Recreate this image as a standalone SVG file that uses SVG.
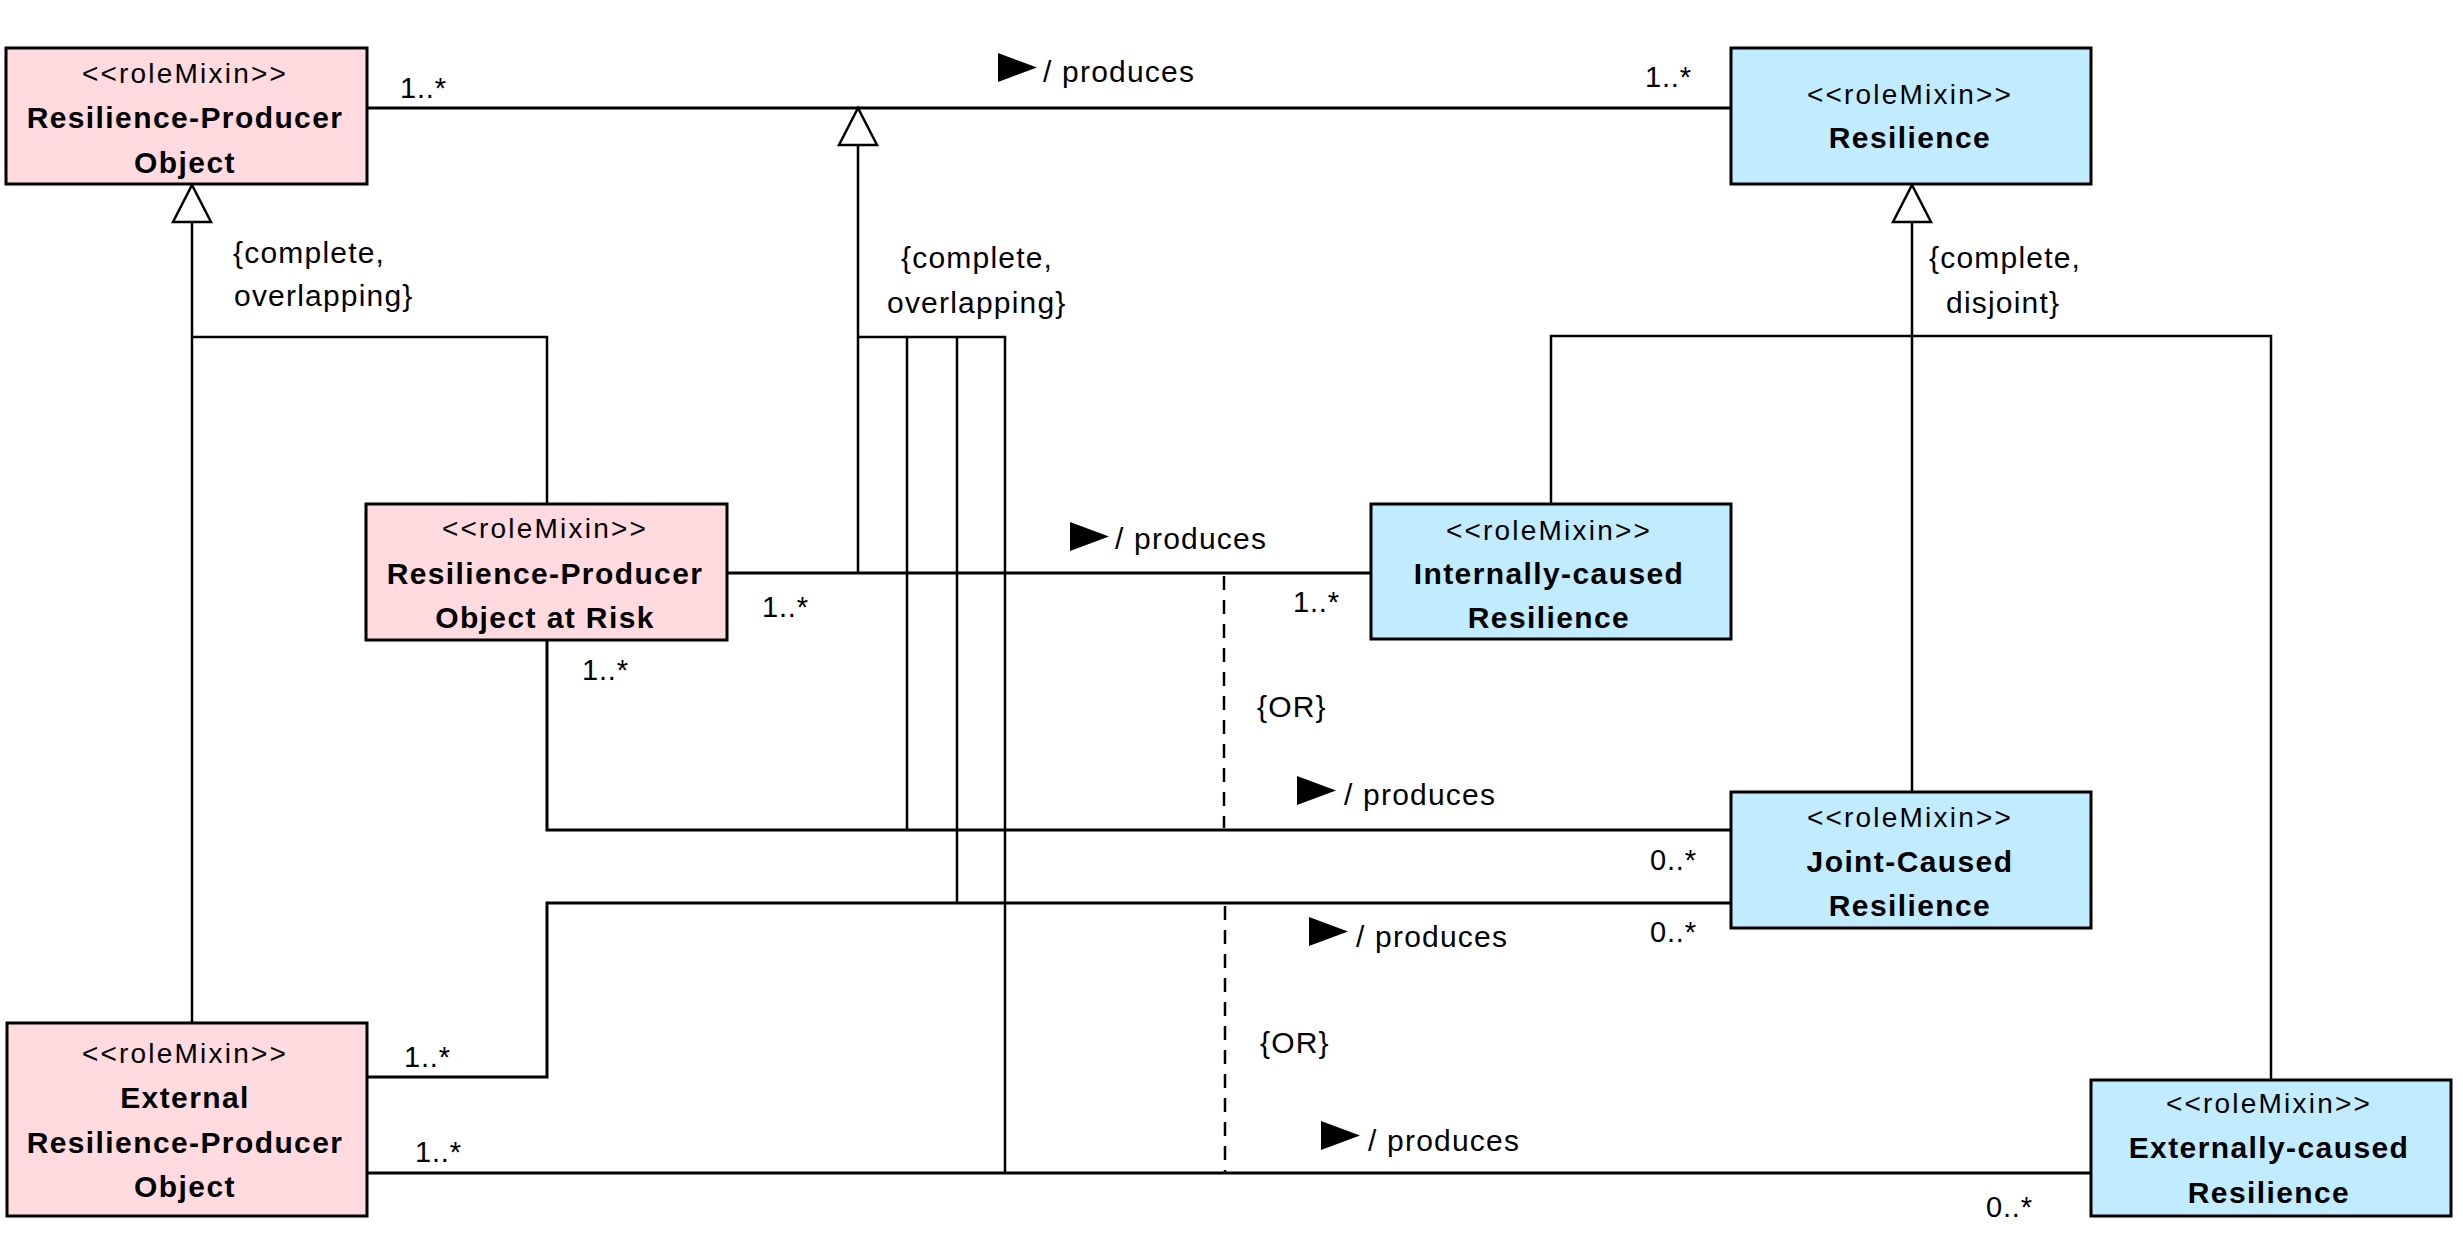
<svg xmlns="http://www.w3.org/2000/svg" xmlns:xlink="http://www.w3.org/1999/xlink" width="2463" height="1239" viewBox="0 0 2463 1239">
  <style>
    text { font-family: "Liberation Sans", Arial, sans-serif; fill: #000; }
    .pink { fill: #FFDADE; stroke: #000; stroke-width: 3; }
    .blue { fill: #C1ECFF; stroke: #000; stroke-width: 3; }
    .stereo { font-size: 28px; letter-spacing: 2.2px; text-anchor: middle; }
    .name { font-size: 30px; font-weight: bold; letter-spacing: 1.4px; text-anchor: middle; }
    .lbl { font-size: 30px; letter-spacing: 1.2px; }
    .mult { font-size: 29px; letter-spacing: 0.8px; }
    .assoc { fill: none; stroke: #000; stroke-width: 3; }
    .gen { fill: none; stroke: #000; stroke-width: 2.5; }
    .orline { fill: none; stroke: #000; stroke-width: 2.5; stroke-dasharray: 14 10; }
    .hollow { fill: #fff; stroke: #000; stroke-width: 2.5; stroke-linejoin: miter; }
    .readdir { fill: #000; }
  </style>
  <defs>
    <!-- hollow generalization head, apex at origin pointing up -->
    <path id="genHead" class="hollow" d="M0,0 L19,37 L-19,37 Z"/>
    <!-- reading-direction triangle, pointing right -->
    <path id="dirHead" class="readdir" d="M0,0 L39,14.5 L0,29 Z"/>
  </defs>
  <rect width="2463" height="1239" fill="#fff"/>

  <g id="connectors">
    <!-- Resilience-Producer Object produces Resilience -->
    <line class="assoc" x1="367" y1="108" x2="1731" y2="108"/>
    <use xlink:href="#dirHead" x="998" y="53"/>
    <text class="lbl" x="1043" y="82">/ produces</text>
    <text class="mult" x="400" y="98">1..*</text>
    <text class="mult" x="1645" y="87">1..*</text>

    <!-- generalization set under Resilience-Producer Object -->
    <line class="gen" x1="192" y1="222" x2="192" y2="1023"/>
    <polyline class="gen" points="192,337 547,337 547,504"/>
    <use xlink:href="#genHead" x="192" y="185"/>
    <text class="lbl" x="233" y="263">{complete,</text>
    <text class="lbl" x="234" y="306">overlapping}</text>

    <!-- generalization set of the produces associations -->
    <line class="gen" x1="858" y1="145" x2="858" y2="573"/>
    <polyline class="gen" points="907,830 907,337 1005,337 1005,1173"/>
    <line class="gen" x1="957" y1="337" x2="957" y2="903"/>
    <line class="gen" x1="858" y1="337" x2="907" y2="337"/>
    <use xlink:href="#genHead" x="858" y="108"/>
    <text class="lbl" x="901" y="268">{complete,</text>
    <text class="lbl" x="887" y="313">overlapping}</text>

    <!-- generalization set under Resilience -->
    <line class="gen" x1="1912" y1="222" x2="1912" y2="792"/>
    <polyline class="gen" points="1551,504 1551,336 2271,336 2271,1080"/>
    <use xlink:href="#genHead" x="1912" y="185"/>
    <text class="lbl" x="1929" y="268">{complete,</text>
    <text class="lbl" x="1946" y="313">disjoint}</text>

    <!-- Object at Risk produces Internally-caused Resilience -->
    <line class="assoc" x1="727" y1="573" x2="1371" y2="573"/>
    <use xlink:href="#dirHead" x="1070" y="522"/>
    <text class="lbl" x="1115" y="549">/ produces</text>
    <text class="mult" x="762" y="617">1..*</text>
    <text class="mult" x="1293" y="612">1..*</text>

    <!-- Object at Risk produces Joint-Caused Resilience -->
    <polyline class="assoc" points="547,640 547,830 1731,830"/>
    <use xlink:href="#dirHead" x="1297" y="776"/>
    <text class="lbl" x="1344" y="805">/ produces</text>
    <text class="mult" x="582" y="680">1..*</text>
    <text class="mult" x="1650" y="870">0..*</text>

    <!-- External object produces Joint-Caused Resilience -->
    <polyline class="assoc" points="367,1077 547,1077 547,903 1731,903"/>
    <use xlink:href="#dirHead" x="1309" y="917"/>
    <text class="lbl" x="1356" y="947">/ produces</text>
    <text class="mult" x="404" y="1067">1..*</text>
    <text class="mult" x="1650" y="942">0..*</text>

    <!-- External object produces Externally-caused Resilience -->
    <line class="assoc" x1="367" y1="1173" x2="2091" y2="1173"/>
    <use xlink:href="#dirHead" x="1321" y="1121"/>
    <text class="lbl" x="1368" y="1151">/ produces</text>
    <text class="mult" x="415" y="1162">1..*</text>
    <text class="mult" x="1986" y="1217">0..*</text>

    <!-- OR constraints between alternative associations -->
    <line class="orline" x1="1224" y1="576" x2="1224" y2="828"/>
    <text class="lbl" x="1257" y="717">{OR}</text>
    <line class="orline" x1="1225" y1="906" x2="1225" y2="1172"/>
    <text class="lbl" x="1260" y="1053">{OR}</text>
  </g>

  <g id="resilience-producer-object">
    <rect class="pink" x="6" y="48" width="361" height="136"/>
    <text class="stereo" x="185" y="83">&lt;&lt;roleMixin&gt;&gt;</text>
    <text class="name" x="185" y="128">Resilience-Producer</text>
    <text class="name" x="185" y="173">Object</text>
  </g>

  <g id="resilience">
    <rect class="blue" x="1731" y="48" width="360" height="136"/>
    <text class="stereo" x="1910" y="104">&lt;&lt;roleMixin&gt;&gt;</text>
    <text class="name" x="1910" y="148">Resilience</text>
  </g>

  <g id="object-at-risk">
    <rect class="pink" x="366" y="504" width="361" height="136"/>
    <text class="stereo" x="545" y="538">&lt;&lt;roleMixin&gt;&gt;</text>
    <text class="name" x="545" y="584">Resilience-Producer</text>
    <text class="name" x="545" y="628">Object at Risk</text>
  </g>

  <g id="internally-caused-resilience">
    <rect class="blue" x="1371" y="504" width="360" height="135"/>
    <text class="stereo" x="1549" y="540">&lt;&lt;roleMixin&gt;&gt;</text>
    <text class="name" x="1549" y="584">Internally-caused</text>
    <text class="name" x="1549" y="628">Resilience</text>
  </g>

  <g id="joint-caused-resilience">
    <rect class="blue" x="1731" y="792" width="360" height="136"/>
    <text class="stereo" x="1910" y="827">&lt;&lt;roleMixin&gt;&gt;</text>
    <text class="name" x="1910" y="872">Joint-Caused</text>
    <text class="name" x="1910" y="916">Resilience</text>
  </g>

  <g id="external-resilience-producer-object">
    <rect class="pink" x="7" y="1023" width="360" height="193"/>
    <text class="stereo" x="185" y="1063">&lt;&lt;roleMixin&gt;&gt;</text>
    <text class="name" x="185" y="1108">External</text>
    <text class="name" x="185" y="1153">Resilience-Producer</text>
    <text class="name" x="185" y="1197">Object</text>
  </g>

  <g id="externally-caused-resilience">
    <rect class="blue" x="2091" y="1080" width="360" height="136"/>
    <text class="stereo" x="2269" y="1113">&lt;&lt;roleMixin&gt;&gt;</text>
    <text class="name" x="2269" y="1158">Externally-caused</text>
    <text class="name" x="2269" y="1203">Resilience</text>
  </g>
</svg>
